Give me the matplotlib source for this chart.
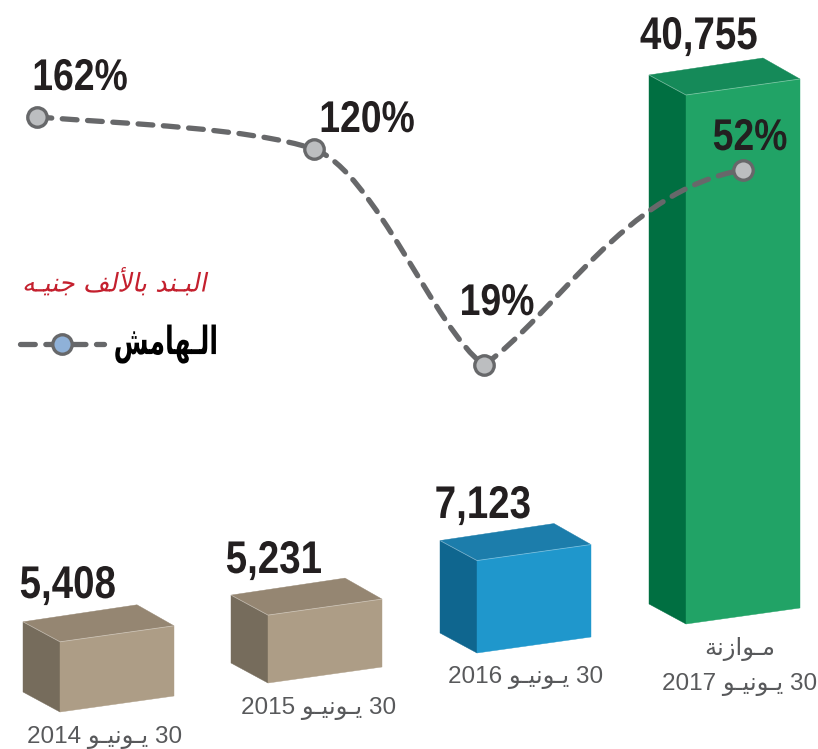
from matplotlib import pyplot as plt
from matplotlib.path import Path
from matplotlib.patches import PathPatch, Polygon
from matplotlib.patheffects import AbstractPathEffect
from matplotlib.transforms import Affine2D

# Arabic strings are written in presentation forms, left to right,
# because matplotlib does no shaping of its own.
JUNE = "\ufeee\u0640\ufef4\ufee7\ufeee\u0640\ufef3"

values = [5408, 5231, 7123, 40755]
value_labels = ["5,408", "5,231", "7,123", "40,755"]
date_labels = ["2014 " + JUNE + " 30", "2015 " + JUNE + " 30",
               "2016 " + JUNE + " 30", "2017 " + JUNE + " 30"]
budget_label = "\ufe94\ufee7\ufeaf\ufe8d\ufeee\u0640\ufee3"
margin_labels = ["162%", "120%", "19%", "52%"]
unit_label = ("\ufeea\u0640\ufef4\ufee8\ufe9f "
              "\ufed2\ufedf\ufef7\ufe8e\ufe91 "
              "\ufeaa\ufee8\u0640\ufe92\ufedf\ufe8d")
legend_label = "\ufeb6\ufee3\ufe8e\ufeec\u0640\ufedf\ufe8d"

front_colors = ["#ad9d86", "#ad9d86", "#1f97cc", "#21a366"]
side_colors = ["#766c5c", "#766c5c", "#0f668f", "#006f41"]
top_colors = ["#958672", "#958672", "#1c7dab", "#158a59"]

# layout, in pixels of the 818x749 canvas
bar_left = [60, 268, 477, 686]
bar_bottom = [712, 683, 653, 624]
value_label_xy = [(68, 598), (274, 573), (483, 518), (699, 49)]
date_label_xy = [(105, 743), (319, 714), (526, 683), (740, 690)]
margin_xy = [(37, 117), (314, 149), (484, 365), (743, 170)]
margin_label_xy = [(80, 90), (367, 132), (497, 315), (750, 150)]
bar_width = 114
px_per_unit = 0.01298

LINE_GRAY = "#67686a"
TEXT_DARK = "#231f20"
TEXT_GRAY = "#58595b"
SANS = ["Liberation Sans", "DejaVu Sans"]


class Squeeze(AbstractPathEffect):
    # narrows or slants a text around a fixed x on the canvas
    def __init__(self, cx, sx=1.0, shear=0.0):
        self.cx, self.sx, self.shear = cx, sx, shear

    def draw_path(self, renderer, gc, tpath, affine, rgbFace=None):
        local = Affine2D().skew(self.shear, 0)
        squeeze = Affine2D().translate(-self.cx, 0).scale(self.sx, 1).translate(self.cx, 0)
        renderer.draw_path(gc, tpath, local + affine + squeeze, rgbFace)


fig = plt.figure(figsize=(8.18, 7.49), dpi=100)
ax = fig.add_axes([0, 0, 1, 1])
ax.set_xlim(0, 818)
ax.set_ylim(749, 0)
ax.axis("off")


def draw_box(x, bottom, value, front, side, top):
    h = value * px_per_unit
    y = bottom - h
    w = bar_width
    faces = [
        ([(x, y), (x - 37, y - 20), (x - 37, bottom - 20), (x, bottom)], side),
        ([(x, y), (x + w, y - 16), (x + w - 37, y - 37), (x - 37, y - 20)], top),
        ([(x, y), (x + w, y - 16), (x + w, bottom - 16), (x, bottom)], front),
    ]
    for pts, color in faces:
        ax.add_patch(Polygon(pts, closed=True, facecolor=color, edgecolor=color,
                             linewidth=0.3, zorder=2))
    # thin highlight along the top edges
    ax.plot([x - 37, x, x + w], [y - 20, y, y - 16], color="white", alpha=0.35,
            lw=0.6, zorder=3)


def narrow_label(x, y, s, size=33):
    ax.text(x, y, s, family=SANS, weight="bold", fontsize=size, color=TEXT_DARK,
            ha="center", va="baseline", zorder=6,
            path_effects=[Squeeze(x, 0.84)])


for i in range(len(values)):
    draw_box(bar_left[i], bar_bottom[i], values[i],
             front_colors[i], side_colors[i], top_colors[i])
    narrow_label(value_label_xy[i][0], value_label_xy[i][1], value_labels[i])
    ax.text(date_label_xy[i][0], date_label_xy[i][1], date_labels[i],
            family=SANS, fontsize=17.5, color=TEXT_GRAY,
            ha="center", va="baseline", zorder=6)

ax.text(740, 655, budget_label, family=SANS, fontsize=17.5, color=TEXT_GRAY,
        ha="center", va="baseline", zorder=6)

# margin curve
p0, p1, p2, p3 = margin_xy
verts = [p0, (130, 124), (250, 128), p1,
         (375, 172), (435, 330), p2,
         (555, 315), (625, 190), p3]
codes = [Path.MOVETO] + [Path.CURVE4] * 9
ax.add_patch(PathPatch(Path(verts, codes), fill=False, edgecolor=LINE_GRAY,
                       linewidth=3.8, linestyle=(0, (2.8, 2.0)),
                       capstyle="round", zorder=4))
ax.plot([p[0] for p in margin_xy], [p[1] for p in margin_xy], linestyle="none",
        marker="o", markersize=14, markerfacecolor="#bcbec0",
        markeredgecolor=LINE_GRAY, markeredgewidth=2.4, zorder=5)

for i in range(len(margin_labels)):
    narrow_label(margin_label_xy[i][0], margin_label_xy[i][1], margin_labels[i], 32)

# legend
ax.text(207, 283, unit_label, family=["DejaVu Sans"], fontsize=18.5,
        color="#c4202e", ha="right", va="center",
        path_effects=[Squeeze(207, 1.0, 0.2)])
ax.plot([20, 104], [344, 344], color=LINE_GRAY, lw=3.8,
        linestyle=(0, (2.8, 2.0)), dash_capstyle="round", zorder=4)
ax.plot([62], [344], linestyle="none", marker="o", markersize=14,
        markerfacecolor="#8fb1d8", markeredgecolor=LINE_GRAY,
        markeredgewidth=2.4, zorder=5)
ax.text(218, 344, legend_label, family=["DejaVu Sans"], weight="bold", fontsize=28,
        color="black", ha="right", va="center",
        path_effects=[Squeeze(218, 0.65)])

fig.savefig("out.png", dpi=100)
